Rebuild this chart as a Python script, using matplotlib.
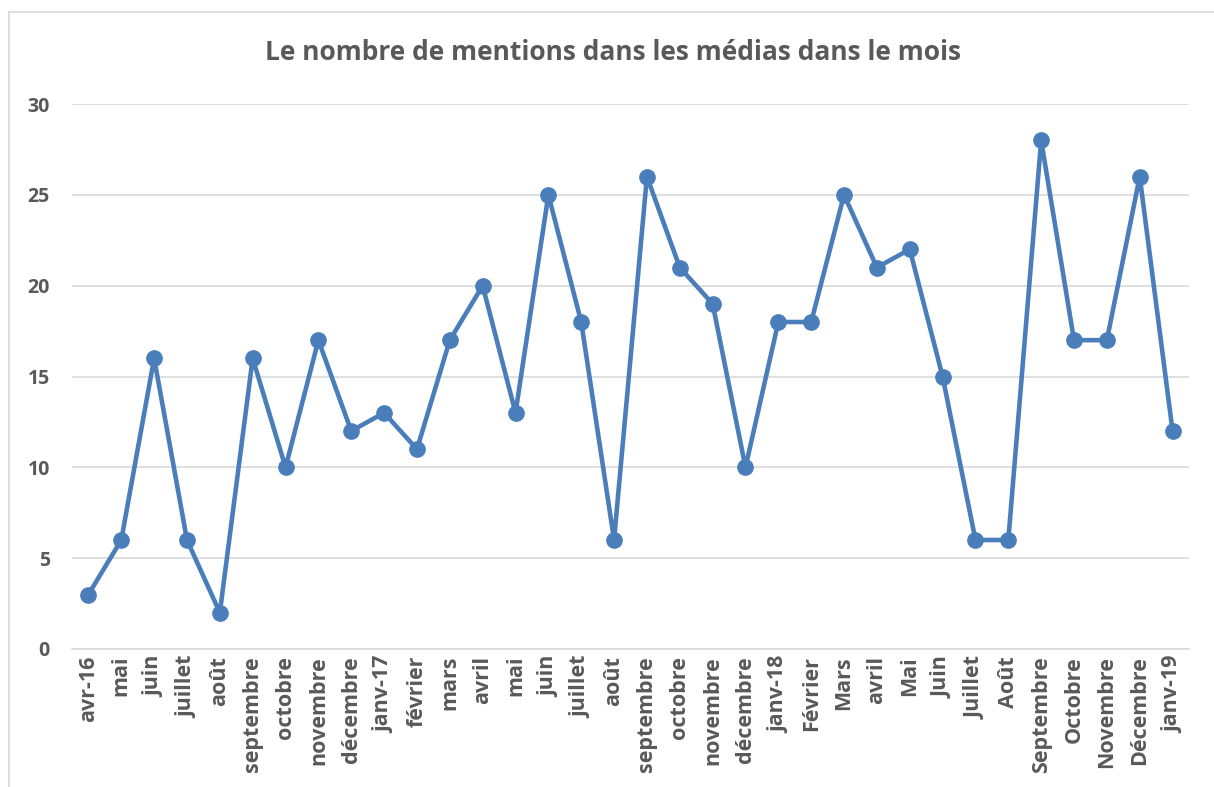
import matplotlib.pyplot as plt
from matplotlib.lines import Line2D

# month labels as shown on the category axis
mois = ['avr-16', 'mai', 'juin', 'juillet', 'août', 'septembre', 'octobre',
        'novembre', 'décembre', 'janv-17', 'février', 'mars', 'avril', 'mai',
        'juin', 'juillet', 'août', 'septembre', 'octobre', 'novembre',
        'décembre', 'janv-18', 'Février', 'Mars', 'avril', 'Mai', 'Juin',
        'Juillet', 'Août', 'Septembre', 'Octobre', 'Novembre', 'Décembre',
        'janv-19']
mentions = [3, 6, 16, 6, 2, 16, 10, 17, 12, 13, 11, 17, 20, 13, 25, 18, 6,
            26, 21, 19, 10, 18, 18, 25, 21, 22, 15, 6, 6, 28, 17, 17, 26, 12]
yticks = [0, 5, 10, 15, 20, 25, 30]

gris = '#595959'
bleu = '#4A7EBB'

plt.rcParams['font.family'] = ['Open Sans', 'DejaVu Sans']

fig = plt.figure(figsize=(12.14, 7.87), dpi=100)
W, H = 1214, 787
ax = fig.add_axes([72 / W, 1 - 649 / H, (1189 - 72) / W, (649 - 104) / H])

x = list(range(len(mois)))
ax.plot(x, mentions, color=bleu, lw=3.3, marker='o', ms=11,
        solid_joinstyle='round', zorder=3, clip_on=False)

ax.set_xlim(-0.5, len(mois) - 0.5)
ax.set_ylim(0, 30)
ax.set_yticks(yticks)
ax.set_yticklabels([str(v) for v in yticks], fontsize=14, fontweight='bold', color=gris)
ax.set_xticks(x)
ax.set_xticklabels(mois, rotation=90, fontsize=15.5, fontweight='bold', color=gris)
ax.tick_params(length=0)
ax.tick_params(axis='y', pad=16)
ax.tick_params(axis='x', pad=5)
ax.grid(axis='y', color='#D9D9D9', lw=1.2)
ax.set_axisbelow(True)
for s in ['top', 'right', 'left']:
    ax.spines[s].set_visible(False)
ax.spines['bottom'].set_color('#D9D9D9')
ax.spines['bottom'].set_linewidth(1.2)

fig.text(613 / W, 1 - 53 / H, 'Le nombre de mentions dans les médias dans le mois',
         ha='center', va='center', fontsize=19, fontweight='bold', color=gris)

# chart border (only top and left visible)
fig.add_artist(Line2D([9 / W, 1], [1 - 12 / H, 1 - 12 / H], color='#D9D9D9', lw=1.2))
fig.add_artist(Line2D([9 / W, 9 / W], [0, 1 - 12 / H], color='#D9D9D9', lw=1.2))

fig.savefig('out.png', dpi=100)
